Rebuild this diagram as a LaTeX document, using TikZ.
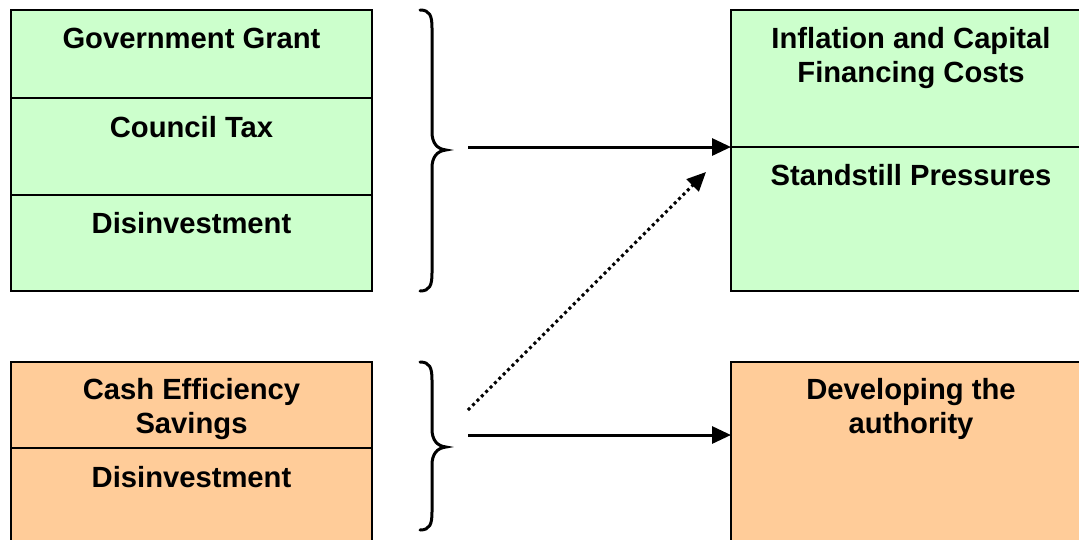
\documentclass[tikz,border=0pt]{standalone}
\usepackage{fontspec}
\setmainfont{Liberation Sans}
\usetikzlibrary{arrows.meta}
\definecolor{pgreen}{HTML}{CCFFCC}
\definecolor{porange}{HTML}{FFCC99}
\tikzset{
  box/.style={draw=black, line width=1.6pt, minimum width=361pt, anchor=north west, inner sep=0pt, outer sep=0pt},
  gbox/.style={box, fill=pgreen},
  obox/.style={box, fill=porange},
  lbl/.style={font=\fontsize{29.2}{34}\selectfont\bfseries, align=center, anchor=base, inner sep=0pt},
  brace/.style={line width=3pt, line cap=round},
  conn/.style={line width=3pt, -{Triangle[length=19pt,width=17pt]}},
  dconn/.style={line width=3pt, dash pattern=on 3pt off 3.2pt, -{Triangle[length=19pt,width=17pt]}}
}
\begin{document}
\begin{tikzpicture}[x=1pt,y=-1pt]
\useasboundingbox (0,0) rectangle (1079,539);
\clip (0,0) rectangle (1079,539);
% left green
\node[gbox, minimum height=88pt] (gg) at (11,10) {};
\node[gbox, minimum height=97pt] (ct) at (11,98) {};
\node[gbox, minimum height=96pt] (di) at (11,195) {};
% left orange
\node[obox, minimum height=86pt] (ce) at (11,362) {};
\node[obox, minimum height=110pt] (od) at (11,448) {};
% right green
\node[gbox, minimum height=137pt] (ic) at (731,10) {};
\node[gbox, minimum height=144pt] (sp) at (731,147) {};
% right orange
\node[obox, minimum height=200pt] (da) at (731,362) {};
% labels
\node[lbl] (tgg) at (191.5,48) {Government Grant};
\node[lbl] (tct) at (191.5,137) {Council Tax};
\node[lbl] (tdi) at (191.5,233) {Disinvestment};
\node[lbl] (tce) at (191.5,433) {Cash Efficiency\\Savings};
\node[lbl] (tod) at (191.5,487) {Disinvestment};
\node[lbl] (tic) at (911,82) {Inflation and Capital\\Financing Costs};
\node[lbl] (tsp) at (911,185) {Standstill Pressures};
\node[lbl] (tda) at (911,433) {Developing the\\authority};
% braces
\draw[brace] (420,10) .. controls (430,10) and (432,16) .. (432,28) -- (432,132) .. controls (432,143) and (437,149) .. (446,150) .. controls (437,151) and (432,157) .. (432,168) -- (432,273) .. controls (432,285) and (430,291) .. (420,291);
\draw[brace] (420,362) .. controls (430,362) and (432,368) .. (432,380) -- (432,429) .. controls (432,440) and (437,446) .. (446,447) .. controls (437,448) and (432,454) .. (432,465) -- (432,512) .. controls (432,524) and (430,530) .. (420,530);
% connectors
\coordinate (a1) at (468,147);
\coordinate (a2) at (468,435);
\coordinate (d1) at (468,410);
\coordinate (d2) at (706,172);
\draw[conn] (a1) -- (ic.south west);
\draw[conn] (a2) -- (a2 -| da.west);
\draw[dconn] (d1) -- (d2);
\end{tikzpicture}
\end{document}
